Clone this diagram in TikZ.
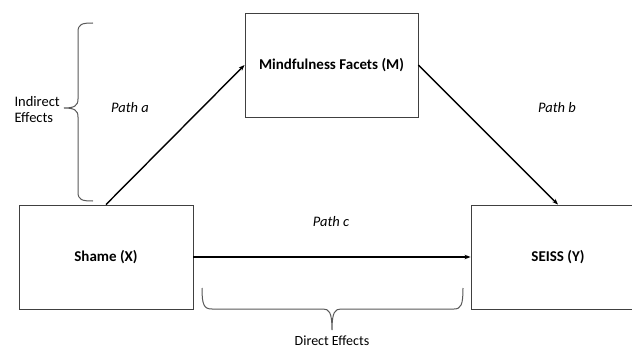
\documentclass[tikz,border=0pt]{standalone}
\usepackage{fontspec}
\setmainfont{Carlito}
\usetikzlibrary{arrows.meta}
\begin{document}
\begin{tikzpicture}[x=1pt,y=-1pt,
  varbox/.style={draw=black!75,line width=0.9pt,minimum width=174pt,minimum height=104pt,inner sep=0pt,font=\fontsize{15}{17}\selectfont\bfseries},
  pathlbl/.style={font=\fontsize{14.5}{17}\selectfont\itshape},
  efflbl/.style={font=\fontsize{14.5}{16}\selectfont,align=left},
  conn/.style={line width=1.4pt,-{Stealth[length=6pt,width=4.5pt]}},
  bracepath/.style={draw=black!65,line width=1pt}]
\useasboundingbox (0,0) rectangle (632,350);
\clip (0,0) rectangle (632,350);
\fill[white] (0,0) rectangle (632,350);
\node[varbox,minimum width=173pt] (m) at (331.5,65) {Mindfulness Facets (M)};
\node[varbox] (x) at (106,257) {Shame (X)};
\node[varbox] (y) at (558,257) {SEISS (Y)};
\draw[conn] (x.north) -- (m.west);
\draw[conn] (m.east) -- (y.north);
\draw[conn] (x.east) -- (y.west);
\node[pathlbl] (pa) at (130,108) {Path a};
\node[pathlbl] (pb) at (557,108) {Path b};
\node[pathlbl] (pc) at (331,222) {Path c};
\node[efflbl,anchor=west] (ie) at (11,110) {Indirect\\Effects};
\node[efflbl,inner sep=0pt,font=\fontsize{14}{16}\selectfont] (de) at (332,340.5) {Direct Effects};
% left brace
\draw[bracepath] (93,23) .. controls (82,23) and (78,24) .. (78,32) -- (78,99)
  .. controls (78,106) and (74,108) .. (64,108)
  .. controls (74,108) and (78,110) .. (78,117) -- (78,192)
  .. controls (78,200) and (82,201) .. (93,201);
% bottom brace
\draw[bracepath] (202,288) .. controls (202,305) and (204,309) .. (212,309) -- (323,309)
  .. controls (329,309) and (332,312) .. (332,330)
  .. controls (332,312) and (335,309) .. (341,309) -- (454,309)
  .. controls (461,309) and (463,305) .. (463,288);
\end{tikzpicture}
\end{document}
